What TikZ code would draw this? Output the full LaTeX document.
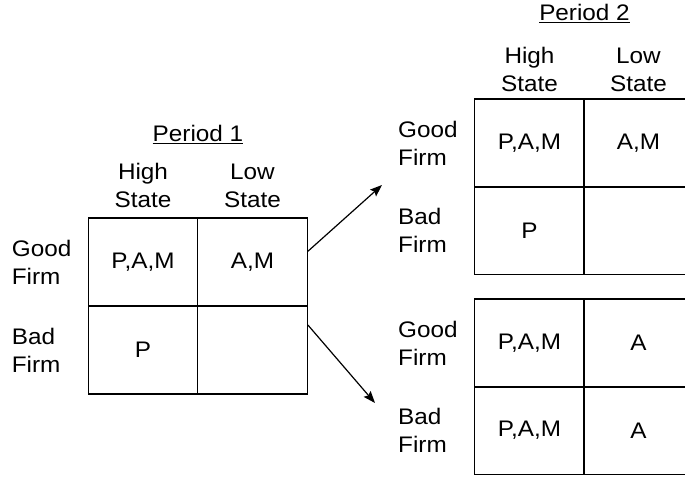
\documentclass[tikz,border=0pt]{standalone}
\usepackage{fontspec}
\setmainfont{Liberation Sans}[FakeStretch=1.08]
\usetikzlibrary{calc,arrows.meta}
\tikzset{
  txt/.style={font=\fontsize{22.5}{28}\selectfont, inner sep=0pt},
  cellbox/.style={draw, line width=1.3pt, minimum width=109.5pt, minimum height=88pt, inner sep=0pt, font=\fontsize{22.5}{28}\selectfont},
  hdr/.style={txt, align=center, anchor=south},
  rowlab/.style={txt, align=left, anchor=west},
  per/.style={txt, anchor=base},
  arr/.style={line width=1.2pt, -{Stealth[length=12pt,width=9pt,inset=2pt]}}
}
\begin{document}
\begin{tikzpicture}[x=1pt,y=-1pt]
\useasboundingbox (0,0) rectangle (685,477);
% Period 1
\node[per] (p1) at (198,141.7) {\underline{Period 1}};
\node[hdr] (p1h) at (143,207.7) {High\\State};
\node[hdr] (p1l) at (252.5,207.7) {Low\\State};
\node[rowlab] (p1g) at (11.7,262) {Good\\Firm};
\node[rowlab] (p1b) at (11.7,350) {Bad\\Firm};
\node[cellbox] (p1GH) at (143,262) {P,A,M};
\node[cellbox] (p1GL) at (252.5,262) {A,M};
\node[cellbox] (p1BH) at (143,350) {P};
\node[cellbox] (p1BL) at (252.5,350) {};
% Period 2
\node[per] (p2) at (584.5,20.7) {\underline{Period 2}};
\node[hdr] (p2h) at (529.5,91.7) {High\\State};
\node[hdr] (p2l) at (638.5,91.7) {Low\\State};
% top grid
\node[rowlab] (tg) at (398,143) {Good\\Firm};
\node[rowlab] (tb) at (398,230.5) {Bad\\Firm};
\node[cellbox] (tGH) at (529.5,143) {P,A,M};
\node[cellbox] (tGL) at (638.5,143) {A,M};
\node[cellbox] (tBH) at (529.5,230.5) {P};
\node[cellbox] (tBL) at (638.5,230.5) {};
% bottom grid
\node[rowlab] (bg) at (398,343) {Good\\Firm};
\node[rowlab] (bb) at (398,430.5) {Bad\\Firm};
\node[cellbox] (bGH) at (529.5,343) {P,A,M};
\node[cellbox] (bGL) at (638.5,343) {A};
\node[cellbox] (bBH) at (529.5,430.5) {P,A,M};
\node[cellbox] (bBL) at (638.5,430.5) {A};
% arrows
\coordinate (a1s) at ($(p1GL.north east)!0.38!(p1GL.south east)$);
\coordinate (a1e) at (382,185);
\coordinate (a2s) at ($(p1BL.north east)!0.22!(p1BL.south east)$);
\coordinate (a2e) at (375,403);
\draw[arr] (a1s) -- (a1e);
\draw[arr] (a2s) -- (a2e);
\end{tikzpicture}
\end{document}
